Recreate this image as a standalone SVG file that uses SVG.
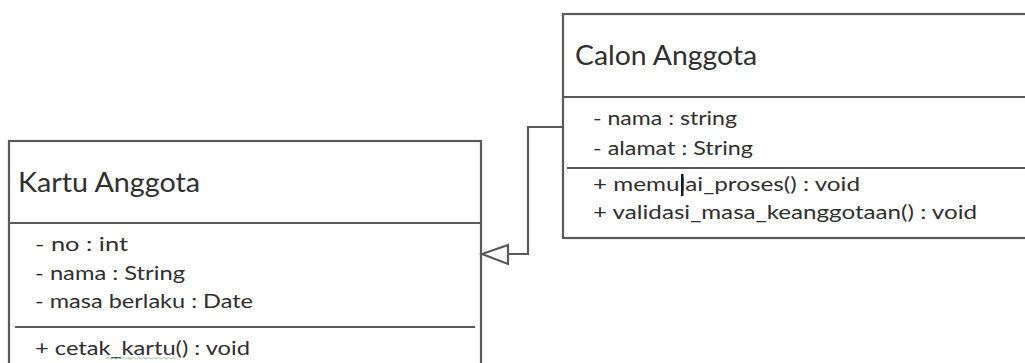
<svg xmlns="http://www.w3.org/2000/svg" width="1025" height="363" viewBox="0 0 1025 363">
  <style>
    .box { fill: #ffffff; stroke: #5a5a5a; stroke-width: 2.2; }
    .sep { stroke: #5a5a5a; stroke-width: 2.2; fill: none; }
    .title { font-family: Lato, "Open Sans", "Liberation Sans", sans-serif; font-size: 26px; fill: #2f2f2f; }
    .member { font-family: Lato, "Open Sans", "Liberation Sans", sans-serif; font-size: 19.5px; fill: #2f2f2f; }
    .edge { stroke: #5a5a5a; stroke-width: 2.2; fill: none; }
  </style>
  <rect width="1025" height="363" fill="#ffffff"/>

  <!-- Class: Kartu Anggota -->
  <g id="kartu-anggota">
    <rect class="box" x="9" y="141" width="472" height="240"/>
    <line class="sep" x1="9" y1="223" x2="481" y2="223"/>
    <line class="sep" x1="15" y1="327" x2="475" y2="327"/>
    <text class="title" x="18" y="192" textLength="182" lengthAdjust="spacingAndGlyphs">Kartu Anggota</text>
    <text class="member" x="35" y="251" textLength="93" lengthAdjust="spacingAndGlyphs">- no : int</text>
    <text class="member" x="35" y="280" textLength="150" lengthAdjust="spacingAndGlyphs">- nama : String</text>
    <text class="member" x="35" y="308" textLength="218" lengthAdjust="spacingAndGlyphs">- masa berlaku : Date</text>
    <text class="member" x="35" y="355" textLength="215" lengthAdjust="spacingAndGlyphs">+ cetak_kartu() : void</text>
    <!-- spell-check squiggle under "kartu()" -->
    <path d="M106 359 l2.5 -1.6 l2.5 1.6 l2.5 -1.6 l2.5 1.6 l2.5 -1.6 l2.5 1.6 l2.5 -1.6 l2.5 1.6 l2.5 -1.6 l2.5 1.6 l2.5 -1.6 l2.5 1.6 l2.5 -1.6 l2.5 1.6 l2.5 -1.6 l2.5 1.6 l2.5 -1.6 l2.5 1.6 l2.5 -1.6 l2.5 1.6 l2.5 -1.6 l2.5 1.6 l2.5 -1.6 l2.5 1.6 l2.5 -1.6 l2.5 1.6 l2.5 -1.6 l2.5 1.6" fill="none" stroke="#6fae6f" stroke-width="1" opacity="0.7"/>
  </g>

  <!-- Class: Calon Anggota -->
  <g id="calon-anggota">
    <rect class="box" x="563" y="14" width="480" height="224"/>
    <line class="sep" x1="563" y1="97" x2="1025" y2="97"/>
    <line class="sep" x1="567" y1="168" x2="1025" y2="168"/>
    <text class="title" x="575" y="65" textLength="182" lengthAdjust="spacingAndGlyphs">Calon Anggota</text>
    <text class="member" x="593" y="125" textLength="144" lengthAdjust="spacingAndGlyphs">- nama : string</text>
    <text class="member" x="593" y="155" textLength="160" lengthAdjust="spacingAndGlyphs">- alamat : String</text>
    <text class="member" x="593" y="191" textLength="267" lengthAdjust="spacingAndGlyphs">+ memulai_proses() : void</text>
    <text class="member" x="593" y="219" textLength="384" lengthAdjust="spacingAndGlyphs">+ validasi_masa_keanggotaan() : void</text>
    <!-- text cursor -->
    <rect x="681" y="174" width="2.5" height="22" fill="#1a1a1a"/>
  </g>

  <!-- Generalization: Calon Anggota to Kartu Anggota -->
  <g id="connectors">
    <polyline class="edge" points="563,127 528,127 528,254 508,254"/>
    <polygon class="edge" points="482,254 508,245 508,264"/>
  </g>
</svg>
